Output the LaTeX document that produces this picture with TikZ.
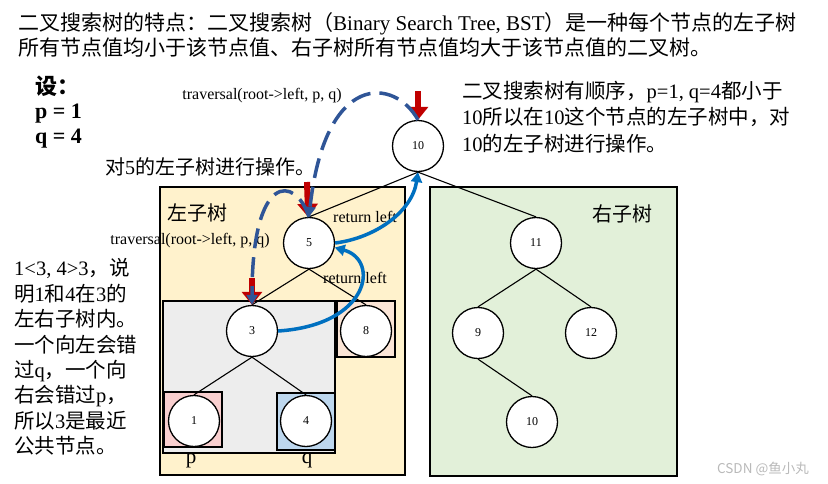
\documentclass[tikz,border=0pt]{standalone}
\usepackage{fontspec}
\setmainfont{Liberation Serif}
\newfontfamily\cjk{Noto Sans CJK SC}
\usetikzlibrary{arrows.meta}
\definecolor{leftyellow}{HTML}{FFF2CC}
\definecolor{rightgreen}{HTML}{E2F0D9}
\definecolor{subgrey}{HTML}{EDEDED}
\definecolor{peach}{HTML}{FBE5D6}
\definecolor{pinkp}{HTML}{F9CFCF}
\definecolor{blueq}{HTML}{BDD7EE}
\definecolor{callblue}{HTML}{2F5597}
\definecolor{retblue}{HTML}{0070C0}
\definecolor{markred}{HTML}{C00000}
\newcommand{\zh}[1]{{\cjk #1}}
\tikzset{
  bst/.style={circle, draw, line width=1.3pt, fill=white, minimum size=51pt, inner sep=0pt, font=\fontsize{12}{12}\selectfont},
  edge/.style={line width=1.1pt},
  region/.style={draw, line width=1.3pt},
  txt/.style={inner sep=0pt, align=left},
  redmark/.style={markred, line width=6pt, -{Triangle[width=20pt,length=13pt]}},
  calldash/.style={callblue, line width=3.5pt, dash pattern=on 20pt off 9pt, -{Triangle[width=11pt,length=10pt]}},
  retcurve/.style={retblue, line width=3.5pt, -{Triangle[width=11pt,length=10pt]}}
}
\begin{document}
\begin{tikzpicture}[x=1pt, y=-1pt]
\useasboundingbox (0,0) rectangle (828,483);
% regions
\draw[region, fill=leftyellow] (160,187) rectangle (405,475);
\draw[region, fill=rightgreen] (430,187) rectangle (677,476);
\draw[region, fill=subgrey] (163,301) rectangle (335,453);
\draw[region, fill=peach] (337,301) rectangle (395,357);
\draw[region, fill=pinkp] (164,392) rectangle (222,447);
\draw[region, fill=blueq] (277,393) rectangle (335,450);
% text
\node[txt, anchor=west, font=\fontsize{21}{25}\selectfont] (title) at (18,35) {\zh{二叉搜索树的特点：二叉搜索树（}Binary Search Tree, BST\zh{）是一种每个节点的左子树}\\\zh{所有节点值均小于该节点值、右子树所有节点值均大于该节点值的二叉树。}};
\node[txt, anchor=west, font=\fontsize{22}{24.5}\bfseries] (given) at (35,112) {\zh{\bfseries 设：}\\p = 1\\q = 4};
\node[txt, anchor=west, font=\fontsize{20.5}{26.5}\selectfont] (order) at (462,117) {\zh{二叉搜索树有顺序，}p=1, q=4\zh{都小于}\\10\zh{所以在}10\zh{这个节点的左子树中，对}\\10\zh{的左子树进行操作。}};
\node[txt, anchor=west, font=\fontsize{20}{24}\selectfont] (op5) at (105,167) {\zh{对}5\zh{的左子树进行操作。}};
\node[txt, anchor=west, font=\fontsize{20.5}{25.4}\selectfont] (why) at (14,357) {1<3, 4>3\zh{，说}\\\zh{明}1\zh{和}4\zh{在}3\zh{的}\\\zh{左右子树内。}\\\zh{一个向左会错}\\\zh{过}q\zh{，一个向}\\\zh{右会错过}p\zh{，}\\\zh{所以}3\zh{是最近}\\\zh{公共节点。}};
\node[txt, font=\fontsize{20}{20}\selectfont] (lefttag) at (197,213) {\zh{左子树}};
\node[txt, font=\fontsize{20}{20}\selectfont] (righttag) at (622,214) {\zh{右子树}};
\node[txt, font=\fontsize{21}{21}\selectfont] (plabel) at (191,461) {p};
\node[txt, font=\fontsize{21}{21}\selectfont] (qlabel) at (307,461) {q};
\node[txt, font=\fontsize{16}{16}\selectfont] (call1) at (262,96) {traversal(root->left, p, q)};
\node[txt, font=\fontsize{16}{16}\selectfont] (call2) at (190,241) {traversal(root->left, p, q)};
\node[txt, font=\fontsize{13.5}{13.5}\selectfont, text=gray!55] (mark) at (763,469) {\zh{CSDN @鱼小丸}};
% tree
\node[bst] (n10) at (418,146) {10};
\node[bst] (n5) at (309,243) {5};
\node[bst] (n3) at (252,331) {3};
\node[bst] (n8) at (366,331) {8};
\node[bst] (n1) at (194,421) {1};
\node[bst] (n4) at (306,421) {4};
\node[bst] (n11) at (536,243) {11};
\node[bst] (n9) at (478,333) {9};
\node[bst] (n12) at (591,333) {12};
\node[bst] (n10b) at (532,422) {10};
\draw[edge] (n10.south) -- (n5.north);
\draw[edge] (n10.south) -- (n11.north);
\draw[edge] (n5.south) -- (n3.north);
\draw[edge] (n5.south) -- (n8.north);
\draw[edge] (n3.south) -- (n1.north);
\draw[edge] (n3.south) -- (n4.north);
\draw[edge] (n11.south) -- (n9.north);
\draw[edge] (n11.south) -- (n12.north);
\draw[edge] (n9.south) -- (n10b.north);
\node[txt, font=\fontsize{16}{16}\selectfont] (ret1) at (365,217) {return left};
\node[txt, font=\fontsize{16}{16}\selectfont] (ret2) at (355,278) {return left};
% current node marks
\coordinate (top10) at (418,91);
\coordinate (top5) at (307,182);
\coordinate (top3) at (252,278);
\draw[redmark] (top10) -- (n10);
\draw[redmark] (top5) -- (n5);
\draw[redmark] (top3) -- (n3);
% calls and returns
\draw[calldash] (n10.north) .. controls (395,78) and (325,70) .. (n5.north);
\draw[calldash] (n5.north) .. controls (295,175) and (252,172) .. (n3.north);
\draw[retcurve] (n5.east) .. controls (375,238) and (412,212) .. (n10.south);
\draw[retcurve] (n3.east) .. controls (370,325) and (380,260) .. (n5.-10);
\end{tikzpicture}
\end{document}
